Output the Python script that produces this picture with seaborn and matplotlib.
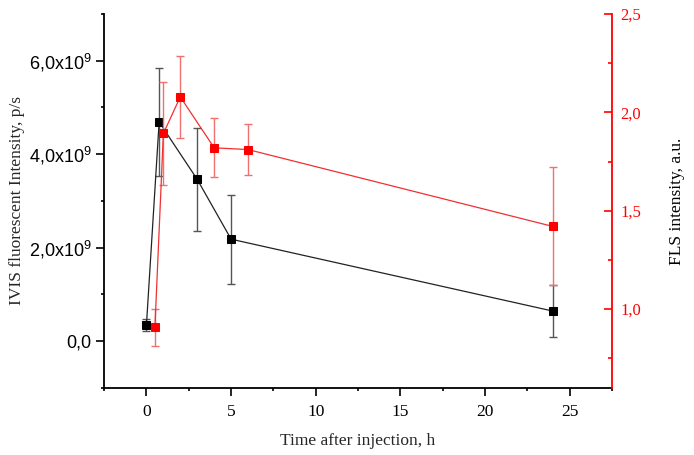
import numpy as np
import pandas as pd
import matplotlib
matplotlib.use("Agg")
import matplotlib.pyplot as plt
import seaborn as sns
from matplotlib.ticker import FixedLocator, MultipleLocator

# ---- data ----
ivis_time = [0, 0.75, 3, 5, 24]
ivis_value = [0.34e9, 4.69e9, 3.46e9, 2.18e9, 0.64e9]
ivis_err = [0.12e9, 1.16e9, 1.11e9, 0.95e9, 0.56e9]

fls_time = [0.5, 1, 2, 4, 6, 24]
fls_value = [0.906, 1.893, 2.079, 1.82, 1.811, 1.42]
fls_err = [0.093, 0.26, 0.21, 0.15, 0.13, 0.30]

x_ticks = [0, 5, 10, 15, 20, 25]
left_ticks = [0, 2e9, 4e9, 6e9]
left_tick_labels = ["0,0", "2,0x10$^{\\mathregular{9}}$", "4,0x10$^{\\mathregular{9}}$", "6,0x10$^{\\mathregular{9}}$"]
right_ticks = [1.0, 1.5, 2.0, 2.5]
right_tick_labels = ["1,0", "1,5", "2,0", "2,5"]

x_label = "Time after injection, h"
left_label = "IVIS fluorescent Intensity, p/s"
right_label = "FLS intensity, a.u."

# ---- style ----
sns.set_theme(style="white")
plt.rcParams['font.family'] = ['Liberation Serif', 'DejaVu Serif']
plt.rcParams['mathtext.fontset'] = 'custom'
plt.rcParams['mathtext.rm'] = 'Liberation Sans'

RED = "#ff0000"

fig = plt.figure(figsize=(6.94, 4.55), dpi=100)
ax = fig.add_axes([0.150, 0.148, 0.732, 0.821])
ax2 = ax.twinx()

df1 = pd.DataFrame({"t": ivis_time, "v": ivis_value})
df2 = pd.DataFrame({"t": fls_time, "v": fls_value})

# black series
ax.errorbar(ivis_time, ivis_value, yerr=ivis_err, fmt="none", ecolor="#555555",
            elinewidth=1.0, capsize=3, capthick=1.0, zorder=2)
sns.lineplot(data=df1, x="t", y="v", ax=ax, color="#222222", linewidth=0.9,
             marker="s", markersize=5.2, markerfacecolor="black",
             markeredgecolor="black", zorder=3)

# red series
ax2.errorbar(fls_time, fls_value, yerr=fls_err, fmt="none", ecolor="#f07070",
             elinewidth=1.0, capsize=3, capthick=1.0, zorder=2)
sns.lineplot(data=df2, x="t", y="v", ax=ax2, color="#f03030", linewidth=0.9,
             marker="s", markersize=6, markerfacecolor=RED,
             markeredgecolor=RED, zorder=3)

ax.set_xlim(-2.5, 27.5)
ax.set_ylim(-1e9, 7e9)
ax2.set_ylim(0.6, 2.5)

ax.xaxis.set_major_locator(FixedLocator(x_ticks))
ax.xaxis.set_minor_locator(MultipleLocator(2.5))
ax.yaxis.set_major_locator(FixedLocator(left_ticks))
ax.yaxis.set_minor_locator(MultipleLocator(1e9))
ax.set_yticklabels(left_tick_labels, fontfamily="Liberation Sans", fontsize=13)
ax.set_xticklabels([str(v) for v in x_ticks], fontsize=12.5)

ax2.yaxis.set_major_locator(FixedLocator(right_ticks))
ax2.yaxis.set_minor_locator(MultipleLocator(0.25))
ax2.set_yticklabels(right_tick_labels, fontsize=12, color=RED)

for a in (ax, ax2):
    a.spines["top"].set_visible(False)

ax.tick_params(which="both", direction="out", width=1.2, colors="black",
               left=True, bottom=True)
ax.tick_params(which="major", length=5.5)
ax.tick_params(which="minor", length=2.5)
ax.tick_params(axis="x", which="major", pad=6)

ax2.tick_params(axis="y", which="both", direction="in", width=1.2, colors=RED,
                right=True, left=False, labelcolor=RED)
ax2.tick_params(axis="y", which="major", length=5.5, pad=6)
ax2.tick_params(axis="y", which="minor", length=3)

ax.spines["right"].set_visible(False)
ax2.spines["left"].set_visible(False)
ax2.spines["bottom"].set_visible(False)
for s in ("left", "bottom"):
    ax.spines[s].set_color("black")
    ax.spines[s].set_linewidth(1.3)
ax2.spines["right"].set_color(RED)
ax2.spines["right"].set_linewidth(1.3)

ax.set_xlabel(x_label, fontsize=12.5, labelpad=9.5)
ax.set_ylabel(left_label, fontsize=12.5, labelpad=2.5)
ax2.set_ylabel(right_label, fontsize=12.5, labelpad=20, color="black")

fig.patch.set_facecolor("white")
fig.savefig("out.png", dpi=100)
